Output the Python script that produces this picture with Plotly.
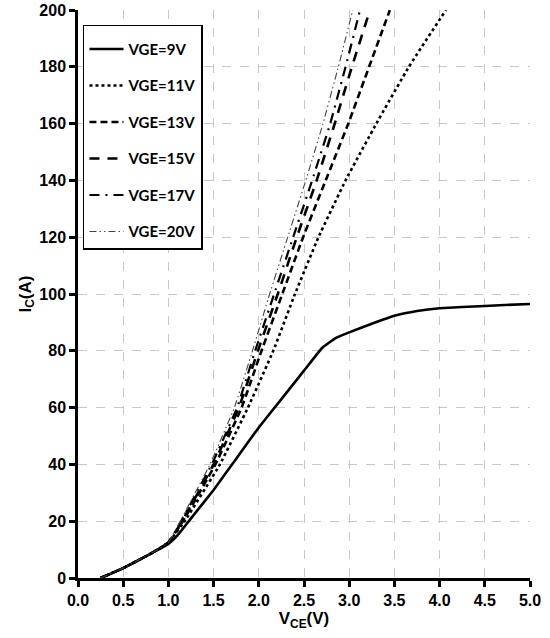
import plotly.graph_objects as go

# output characteristics
v_9 = [0.25, 0.5, 0.8, 1.0, 1.1, 1.25, 1.5, 1.75, 2.0, 2.25, 2.5, 2.7, 2.85, 3.0, 3.25, 3.5, 3.75, 4.0, 4.5, 5.0]
i_9 = [0, 3.5, 8.5, 12, 15, 21, 31, 42, 53, 63, 73, 81, 84.5, 86.5, 89.5, 92.3, 94, 95, 95.8, 96.5]

i_hi = [0, 3.5, 8.5, 12.5, 20, 40, 60, 80, 100, 120, 140, 160, 180, 200]
v_11 = [0.25, 0.5, 0.8, 1.0, 1.18, 1.57, 1.88, 2.16, 2.40, 2.66, 2.96, 3.30, 3.66, 4.07]
v_13 = [0.25, 0.5, 0.8, 1.0, 1.16, 1.52, 1.81, 2.03, 2.26, 2.49, 2.74, 2.99, 3.22, 3.45]
v_15 = [0.25, 0.5, 0.8, 1.0, 1.15, 1.50, 1.78, 1.99, 2.21, 2.42, 2.64, 2.84, 3.03, 3.23]
v_17 = [0.25, 0.5, 0.8, 1.0, 1.14, 1.48, 1.76, 1.96, 2.17, 2.38, 2.59, 2.79, 2.96, 3.12]
v_20 = [0.25, 0.5, 0.8, 1.0, 1.13, 1.46, 1.73, 1.93, 2.12, 2.32, 2.52, 2.71, 2.88, 3.04]

x_ticks = [0, 0.5, 1, 1.5, 2, 2.5, 3, 3.5, 4, 4.5, 5]
y_ticks = [0, 20, 40, 60, 80, 100, 120, 140, 160, 180, 200]

series = [
    ("VGE=9V", v_9, i_9, dict(color="black", width=2.6, dash="solid")),
    ("VGE=11V", v_11, i_hi, dict(color="black", width=2.6, dash="dot")),
    ("VGE=13V", v_13, i_hi, dict(color="black", width=2.6, dash="7px,4px")),
    ("VGE=15V", v_15, i_hi, dict(color="black", width=2.6, dash="10px,8px")),
    ("VGE=17V", v_17, i_hi, dict(color="black", width=2.2, dash="10px,6px,2px,6px")),
    ("VGE=20V", v_20, i_hi, dict(color="#444444", width=1.1, dash="7px,3px,1.5px,3px,1.5px,3px")),
]

fig = go.Figure()
for k, (name, xs, ys, line) in enumerate(series):
    fig.add_trace(go.Scatter(
        x=xs, y=ys, mode="lines", name=name,
        legendgroup=str(k),
        line=dict(shape="spline", smoothing=0.3, **line),
    ))

axis_font = dict(family="Liberation Sans", size=16, color="black", weight="bold")
title_font = dict(family="Liberation Sans", size=17, color="black", weight="bold")

fig.update_layout(
    width=550, height=638,
    margin=dict(l=78, r=20, t=10, b=60),
    paper_bgcolor="white", plot_bgcolor="white",
    showlegend=True,
    legend=dict(
        x=0.011, y=0.974, xanchor="left", yanchor="top",
        bgcolor="white", bordercolor="black", borderwidth=1.5,
        font=dict(family="Lato", size=15, color="black", weight="bold"),
        title=dict(text=" ", font=dict(size=5)),
        traceorder="grouped", tracegroupgap=14,
        itemwidth=34,
    ),
    xaxis=dict(
        range=[0, 5], tickvals=x_ticks, ticktext=[f"{v:.1f}" for v in x_ticks],
        showline=True, linecolor="black", linewidth=2.5,
        ticks="outside", ticklen=6, tickwidth=2.5, tickcolor="black",
        showgrid=True, gridcolor="#c8c8c8", griddash="dash", gridwidth=1,
        zeroline=False, tickfont=axis_font, automargin=False,
        ticklabeloverflow="allow",
        title=dict(text="V<sub>CE</sub>(V)", font=title_font, standoff=2),
    ),
    yaxis=dict(
        range=[0, 200], tickvals=y_ticks,
        showline=True, linecolor="black", linewidth=2.5,
        ticks="outside", ticklen=6, tickwidth=2.5, tickcolor="black",
        showgrid=True, gridcolor="#c8c8c8", griddash="dash", gridwidth=1,
        zeroline=False, tickfont=axis_font, automargin=False,
        ticklabeloverflow="allow",
        title=dict(text="I<sub>C</sub>(A)", font=title_font, standoff=4),
    ),
)

# drop the default 8px body margin so the figure sits at the window corner
fig.write_html("out.html", config={"displayModeBar": False},
               post_script="document.body.style.margin='0px';")
